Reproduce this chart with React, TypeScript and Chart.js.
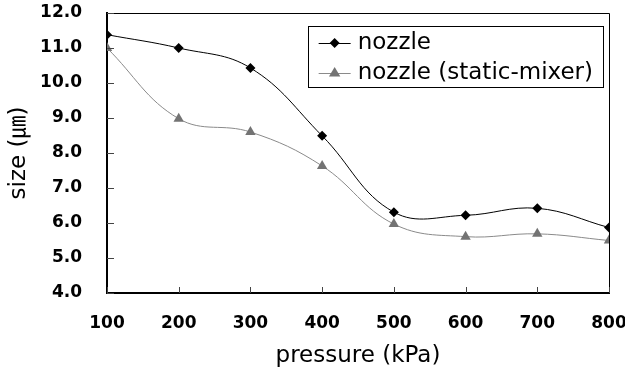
import React, { useEffect, useRef } from "react";
import { Chart, registerables } from "chart.js";

Chart.register(...registerables);

const pressures = [100, 200, 300, 400, 500, 600, 700, 800];
const nozzleSizes = [11.38, 11.0, 10.43, 8.49, 6.31, 6.22, 6.42, 5.87];
const mixerSizes = [11.0, 8.98, 8.6, 7.63, 5.97, 5.61, 5.69, 5.5];
const seriesNames = ["nozzle", "nozzle (static-mixer)"];
const xTitle = "pressure (kPa)";
const yTitle = "size (㎛)";

const TEXT_FONT = "'DejaVu Sans', 'Noto Sans CJK KR', sans-serif";

function drawMarker(ctx: CanvasRenderingContext2D, style: string, x: number, y: number, r: number, color: string) {
  ctx.save();
  ctx.fillStyle = color;
  ctx.beginPath();
  if (style === "rectRot") {
    ctx.moveTo(x, y - r);
    ctx.lineTo(x + r, y);
    ctx.lineTo(x, y + r);
    ctx.lineTo(x - r, y);
  } else {
    ctx.moveTo(x, y - r);
    ctx.lineTo(x + r * 0.95, y + r * 0.6);
    ctx.lineTo(x - r * 0.95, y + r * 0.6);
  }
  ctx.closePath();
  ctx.fill();
  ctx.restore();
}

const framePlugin = {
  id: "frameAndTicks",
  afterDraw(chart: any) {
    const { ctx, chartArea } = chart;
    const { left, right, top, bottom } = chartArea;
    ctx.save();
    ctx.strokeStyle = "#000";
    ctx.lineWidth = 1;
    ctx.beginPath();
    ctx.moveTo(left, top + 0.5);
    ctx.lineTo(right + 0.5, top + 0.5);
    ctx.lineTo(right + 0.5, bottom);
    ctx.stroke();
    ctx.strokeStyle = "#444";
    ctx.lineWidth = 1;
    const ys = chart.scales.y;
    ys.ticks.forEach((t: any) => {
      const py = Math.round(ys.getPixelForValue(t.value)) + 0.5;
      ctx.beginPath();
      ctx.moveTo(left, py);
      ctx.lineTo(left + 7, py);
      ctx.stroke();
    });
    const xs = chart.scales.x;
    xs.ticks.forEach((t: any) => {
      const px = Math.round(xs.getPixelForValue(t.value)) + 0.5;
      ctx.beginPath();
      ctx.moveTo(px, bottom);
      ctx.lineTo(px, bottom - 6);
      ctx.stroke();
    });
    ctx.restore();

    const font = `23px ${TEXT_FONT}`;
    ctx.save();
    ctx.font = font;
    const datasets = chart.data.datasets;
    let maxW = 0;
    datasets.forEach((d: any) => {
      maxW = Math.max(maxW, ctx.measureText(d.label).width);
    });
    const padL = 11;
    const sample = 32;
    const gap = 7;
    const padR = 10;
    const rowH = 30;
    const boxW = padL + sample + gap + maxW + padR;
    const boxH = rowH * datasets.length + 1;
    const boxRight = right - 6;
    const boxLeft = boxRight - boxW;
    const boxTop = top + 13;
    ctx.fillStyle = "#fff";
    ctx.fillRect(boxLeft, boxTop, boxW, boxH);
    ctx.strokeStyle = "#000";
    ctx.lineWidth = 1;
    ctx.strokeRect(Math.round(boxLeft) + 0.5, Math.round(boxTop) + 0.5, Math.round(boxW), Math.round(boxH));
    datasets.forEach((d: any, i: number) => {
      const cy = boxTop + 17 + i * rowH;
      const x0 = boxLeft + padL;
      ctx.strokeStyle = d.borderColor;
      ctx.lineWidth = 1;
      ctx.beginPath();
      ctx.moveTo(x0, Math.round(cy) + 0.5);
      ctx.lineTo(x0 + sample, Math.round(cy) + 0.5);
      ctx.stroke();
      drawMarker(ctx, d.pointStyle, x0 + sample / 2, cy, d.pointRadius, d.pointBackgroundColor);
      ctx.fillStyle = "#000";
      ctx.textBaseline = "middle";
      ctx.textAlign = "left";
      ctx.fillText(d.label, x0 + sample + gap, cy);
    });
    ctx.restore();
  },
};

export default function App() {
  const canvasRef = useRef<HTMLCanvasElement | null>(null);

  useEffect(() => {
    if (!canvasRef.current) return;
    const chart = new Chart(canvasRef.current, {
      type: "line",
      data: {
        datasets: [
          {
            label: seriesNames[0],
            data: pressures.map((p, i) => ({ x: p, y: nozzleSizes[i] })),
            borderColor: "#000",
            borderWidth: 1,
            pointStyle: "rectRot",
            pointRadius: 5,
            pointBackgroundColor: "#000",
            pointBorderColor: "#000",
            pointBorderWidth: 0,
            tension: 0.4,
            order: 0,
          },
          {
            label: seriesNames[1],
            data: pressures.map((p, i) => ({ x: p, y: mixerSizes[i] })),
            borderColor: "#8a8a8a",
            borderWidth: 1,
            pointStyle: "triangle",
            pointRadius: 6,
            pointBackgroundColor: "#737373",
            pointBorderColor: "#737373",
            pointBorderWidth: 0,
            tension: 0.4,
            order: 1,
          },
        ],
      },
      options: {
        animation: false,
        responsive: false,
        maintainAspectRatio: false,
        layout: { padding: { top: 13, right: 16, left: 0, bottom: 0 } },
        plugins: {
          legend: { display: false },
          tooltip: { enabled: false },
        },
        scales: {
          x: {
            type: "linear",
            min: 100,
            max: 800,
            afterFit(scale: any) {
              scale.height = 74;
              scale.paddingLeft = 0;
              scale.paddingRight = 0;
            },
            ticks: {
              stepSize: 100,
              color: "#000",
              padding: 20,
              maxRotation: 0,
              font: { family: TEXT_FONT, size: 17, weight: "bold" },
            },
            grid: { display: false, drawTicks: false },
            border: { display: true, color: "#000", width: 2 },
            title: {
              display: true,
              text: xTitle,
              color: "#000",
              font: { family: TEXT_FONT, size: 23 },
              padding: { top: 0, bottom: -3 },
            },
          },
          y: {
            min: 4,
            max: 12,
            afterFit(scale: any) {
              scale.width = 107;
              scale.paddingTop = 0;
              scale.paddingBottom = 0;
            },
            ticks: {
              stepSize: 1,
              color: "#000",
              padding: 25,
              font: { family: TEXT_FONT, size: 17, weight: "bold" },
              callback: (v: any) => Number(v).toFixed(1),
            },
            grid: { display: false, drawTicks: false },
            border: { display: true, color: "#000", width: 2 },
            title: {
              display: true,
              text: yTitle,
              color: "#000",
              font: { family: TEXT_FONT, size: 23 },
              padding: { top: 5, bottom: 0 },
            },
          },
        },
      },
      plugins: [framePlugin],
    });
    return () => chart.destroy();
  }, []);

  return (
    <div style={{ position: "fixed", left: 0, top: 0, width: 625, height: 367, background: "#fff" }}>
      <canvas ref={canvasRef} width={625} height={367} />
    </div>
  );
}
